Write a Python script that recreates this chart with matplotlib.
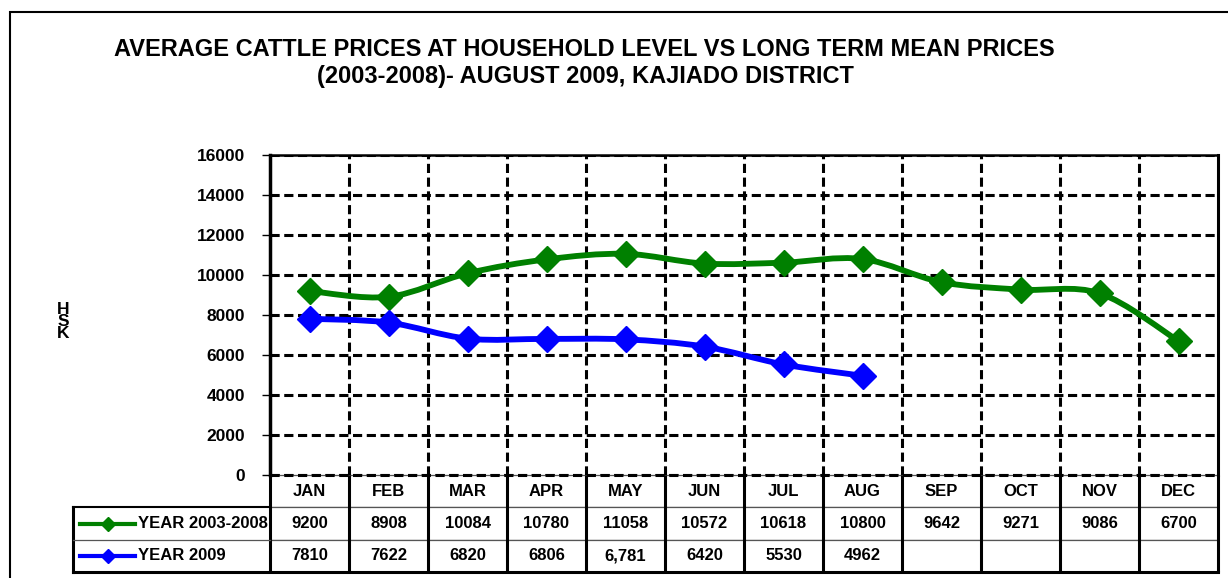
import matplotlib.pyplot as plt
import numpy as np
from matplotlib.patches import Rectangle, PathPatch
from matplotlib.path import Path

plt.rcParams["font.family"] = ["Liberation Sans", "DejaVu Sans"]
plt.rcParams["font.weight"] = "bold"

months = ["JAN", "FEB", "MAR", "APR", "MAY", "JUN", "JUL", "AUG", "SEP", "OCT", "NOV", "DEC"]
long_term = [9200, 8908, 10084, 10780, 11058, 10572, 10618, 10800, 9642, 9271, 9086, 6700]
year_2009 = [7810, 7622, 6820, 6806, 6781, 6420, 5530, 4962]
long_term_labels = ["9200", "8908", "10084", "10780", "11058", "10572", "10618", "10800", "9642", "9271", "9086", "6700"]
year_2009_labels = ["7810", "7622", "6820", "6806", "6,781", "6420", "5530", "4962", "", "", "", ""]
series_names = ["YEAR 2003-2008", "YEAR 2009"]
green = "#008000"
blue = "#0000ff"


def smooth_path(xs, ys):
    # Excel-like smoothed line: Catmull-Rom segments drawn as cubic Beziers
    p = np.column_stack([xs, ys]).astype(float)
    verts = [p[0]]
    codes = [Path.MOVETO]
    n = len(p)
    for i in range(n - 1):
        p0 = p[i - 1] if i > 0 else p[i]
        p3 = p[i + 2] if i + 2 < n else p[i + 1]
        c1 = p[i] + (p[i + 1] - p0) / 6
        c2 = p[i + 1] - (p3 - p[i]) / 6
        verts += [c1, c2, p[i + 1]]
        codes += [Path.CURVE4] * 3
    return Path(verts, codes)


fig = plt.figure(figsize=(12.28, 5.78), dpi=100)
W, H = 1228, 578

# outer frame
fig.patches.append(Rectangle((10 / W, -0.1), 1.2, (578 - 12) / H + 0.1, transform=fig.transFigure,
                             fill=False, edgecolor="black", linewidth=1.5))

left, right, top, bottom = 270, 1218, 155, 475
ax = fig.add_axes([left / W, (H - bottom) / H, (right - left) / W, (bottom - top) / H])

fig.text(584 / W, 1 - 50 / H, "AVERAGE CATTLE PRICES AT HOUSEHOLD LEVEL VS LONG TERM MEAN PRICES",
         ha="center", va="center", fontsize=17, fontweight="bold")
fig.text(585 / W, 1 - 77 / H, "(2003-2008)- AUGUST 2009, KAJIADO DISTRICT",
         ha="center", va="center", fontsize=17, fontweight="bold")

x_all = np.arange(len(months))
for xs, ys, color in [(x_all, long_term, green), (x_all[:len(year_2009)], year_2009, blue)]:
    ax.add_patch(PathPatch(smooth_path(xs, ys), fill=False, edgecolor=color, linewidth=4.2,
                           capstyle="round", joinstyle="round", zorder=4))
    ax.plot(xs, ys, linestyle="none", marker="D", markersize=13, color=color, zorder=5)

ax.set_xlim(-0.5, 11.5)
ax.set_ylim(0, 16000)
ax.set_yticks(np.arange(0, 16001, 2000))
ax.set_xticks([])
ax.set_xticks(np.arange(0.5, 11.5, 1), minor=True)
ax.tick_params(axis="x", which="both", length=0, labelbottom=False)
ax.tick_params(axis="y", labelsize=12.5, length=6, width=1, pad=12)
for lbl in ax.get_yticklabels():
    lbl.set_fontweight("bold")
ax.grid(axis="y", which="major", color="black", linestyle=(0, (3, 1.5)), linewidth=2.2)
ax.grid(axis="x", which="minor", color="black", linestyle=(0, (3, 1.5)), linewidth=2.2)
ax.spines["left"].set_linewidth(2.5)
ax.spines["top"].set_linewidth(1.8)
ax.spines["right"].set_linewidth(2.2)
ax.spines["bottom"].set_visible(False)
ax.axhline(0, color="black", linestyle=(0, (3, 1.5)), linewidth=2.2, clip_on=False, zorder=3)

fig.text(63 / W, 1 - 322 / H, "H\nS\nK", ha="center", va="center", fontsize=12.5,
         fontweight="bold", linespacing=0.75)

# data table under the chart (month columns only, row labels drawn separately)
ax_w = right - left
ax_h = bottom - top
tb_left, tb_bottom = 73, 572
tbl_h = (tb_bottom - bottom) / ax_h
tbl = ax.table(cellText=[long_term_labels, year_2009_labels], colLabels=months,
               cellLoc="center", bbox=[0, -tbl_h, 1, tbl_h])
tbl.auto_set_font_size(False)
for (r, c), cell in tbl.get_celld().items():
    cell.set_edgecolor("#555555")
    cell.set_linewidth(0.9)
    cell.get_text().set_fontsize(12)
    cell.get_text().set_fontweight("bold")

row_h = tbl_h / 3
x_lab = (tb_left - left) / ax_w
xt = ax.get_xaxis_transform()
# thick vertical separators in table
ax.vlines(np.arange(-0.5, 12.0, 1), -tbl_h, 0, color="black", linewidth=2.2,
          transform=xt, clip_on=False, zorder=6)
# row label block
ax.plot([x_lab, x_lab], [-tbl_h, -row_h], color="black", linewidth=2.2,
        transform=ax.transAxes, clip_on=False, zorder=6)
ax.plot([x_lab, 0], [-row_h, -row_h], color="black", linewidth=1.5,
        transform=ax.transAxes, clip_on=False, zorder=6)
ax.plot([x_lab, 0], [-2 * row_h, -2 * row_h], color="#555555", linewidth=0.9,
        transform=ax.transAxes, clip_on=False, zorder=6)
ax.plot([x_lab, 1], [-tbl_h, -tbl_h], color="black", linewidth=2.2,
        transform=ax.transAxes, clip_on=False, zorder=6)

# legend keys in row label cells
for i, (name, color) in enumerate(zip(series_names, [green, blue])):
    yc = -(1.5 + i) * row_h
    x0 = (80 - left) / ax_w
    x1 = (135 - left) / ax_w
    ax.plot([x0, x1], [yc, yc], color=color, linewidth=3, transform=ax.transAxes, clip_on=False, zorder=7)
    ax.plot([(x0 + x1) / 2], [yc], color=color, marker="D", markersize=7, transform=ax.transAxes,
            clip_on=False, zorder=7)
    ax.text((138 - left) / ax_w, yc, name, ha="left", va="center", fontsize=12, fontweight="bold",
            transform=ax.transAxes)

fig.savefig("out.png", dpi=100)
